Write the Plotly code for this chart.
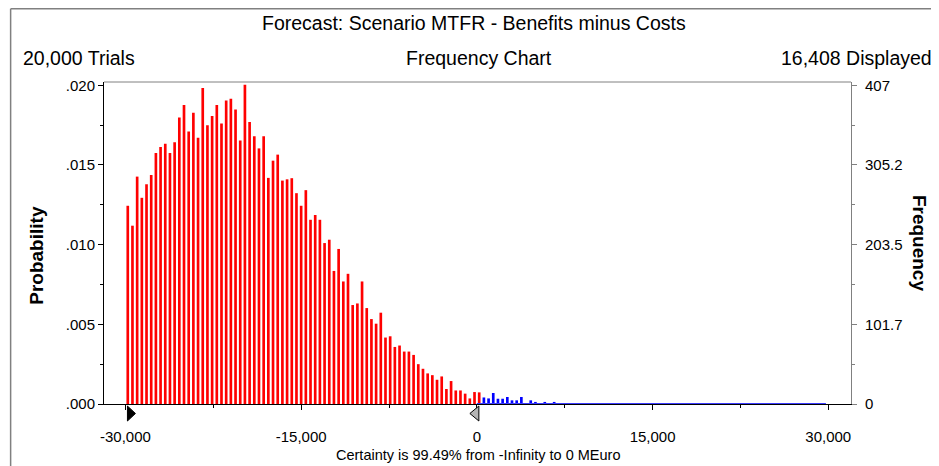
import plotly.graph_objects as go

# Crystal Ball forecast, Scenario MTFR - Benefits minus Costs (MEuro)
# histogram bins: 400 MEuro wide, first bin centred at -29,800
BIN_START = -29800
BIN_WIDTH = 400

# probability per bin, inside the certainty range (-Infinity .. 0)
red_prob = [
    0.01244, 0.01119, 0.01427, 0.01294, 0.01379, 0.01437, 0.01575, 0.01613,
    0.01633, 0.01575, 0.01642, 0.01798, 0.01877, 0.01710, 0.01827, 0.01671,
    0.01983, 0.01750, 0.01808, 0.01877, 0.01760, 0.01904, 0.01915, 0.01848,
    0.01654, 0.02004, 0.01769, 0.01681, 0.01604, 0.01681, 0.01419, 0.01527,
    0.01565, 0.01402, 0.01410, 0.01417, 0.01323, 0.01244, 0.01342, 0.01156,
    0.01186, 0.01156, 0.01010, 0.01031, 0.00835, 0.00973, 0.00769, 0.00817,
    0.00621, 0.00631, 0.00769, 0.00602, 0.00533, 0.00504, 0.00573, 0.00417,
    0.00425, 0.00358, 0.00367, 0.00329, 0.00329, 0.00308, 0.00250, 0.00221,
    0.00192, 0.00181, 0.00152, 0.00173, 0.00094, 0.00144, 0.00085, 0.00085,
    0.00065, 0.00035, 0.00075, 0.00073,
]
# probability per bin, outside the certainty range (above 0)
blue_prob = [
    0.00041, 0.00035, 0.00069, 0.00033, 0.00033, 0.00044, 0.00023, 0.00023,
    0.00044, 0.0, 0.00023, 0.00013, 0.0, 0.00013, 0.0, 0.00013,
]
# near-empty tail bins drawn as a line on the axis
tail_x = [0, 29800]
tail_y = [0, 0]

# certainty grabbers
grab_low = -30000
grab_high = 0

x_ticks = [-30000, -15000, 0, 15000, 30000]
x_labels = ["-30,000", "-15,000", "0", "15,000", "30,000"]
prob_ticks = [0, 0.005, 0.010, 0.015, 0.020]
prob_labels = [".000", ".005", ".010", ".015", ".020"]
freq_ticks = [0, 101.75, 203.5, 305.25, 407]
freq_labels = ["0", "101.7", "203.5", "305.2", "407"]

FONT = "Liberation Sans, Arial, sans-serif"

fig = go.Figure()
fig.add_trace(go.Bar(
    y=red_prob, x0=BIN_START, dx=BIN_WIDTH,
    marker=dict(color="#ff0000", line=dict(width=0)),
    showlegend=False, hoverinfo="skip",
))
fig.add_trace(go.Bar(
    y=blue_prob, x0=BIN_START + len(red_prob) * BIN_WIDTH, dx=BIN_WIDTH,
    marker=dict(color="#0000ff", line=dict(width=0)),
    showlegend=False, hoverinfo="skip",
))
fig.add_trace(go.Scatter(
    x=tail_x, y=tail_y, mode="lines", yaxis="y2",
    line=dict(color="#3c3cff", width=2),
    showlegend=False, hoverinfo="skip", cliponaxis=False,
))

fig.update_layout(
    width=939, height=466, autosize=False,
    margin=dict(l=96, r=96, t=74, b=70),
    paper_bgcolor="white", plot_bgcolor="white",
    barmode="overlay", bargap=0.43,
    font=dict(family=FONT, size=15, color="black"),
    xaxis=dict(
        range=[-31830, 31940], tickvals=x_ticks, ticktext=x_labels,
        showgrid=False, zeroline=False,
        showline=True, linecolor="black", linewidth=1,
        ticks="outside", ticklen=5, tickcolor="black",
        minor=dict(ticks="outside", ticklen=3, dtick=7500, tick0=0, tickcolor="black"),
        ticklabelstandoff=14, tickfont=dict(size=15),
    ),
    yaxis=dict(
        range=[0, 0.020207], tickvals=prob_ticks, ticktext=prob_labels,
        showgrid=False, zeroline=False,
        showline=True, linecolor="black", linewidth=1,
        ticks="outside", ticklen=5, tickcolor="black",
        minor=dict(ticks="outside", ticklen=3, tickvals=[0.0025, 0.0075, 0.0125, 0.0175],
                   tickcolor="black"),
        tickfont=dict(size=15),
    ),
    yaxis2=dict(
        overlaying="y", side="right",
        range=[0, 411.2], tickvals=freq_ticks, ticktext=freq_labels,
        showgrid=False, zeroline=False,
        showline=True, linecolor="#808080", linewidth=1,
        ticks="outside", ticklen=5, tickcolor="#808080",
        minor=dict(ticks="outside", ticklen=3,
                   tickvals=[50.875, 152.625, 254.375, 356.125], tickcolor="#808080"),
        ticklabelstandoff=5, tickfont=dict(size=15),
    ),
)

# plot frame top, outer panel border
fig.add_shape(type="line", xref="paper", yref="paper", x0=0, x1=1, y0=1, y1=1,
              line=dict(color="#808080", width=1))
fig.add_shape(type="line", xref="paper", yref="paper", x0=-0.125, x1=-0.125, y0=1.2275, y1=-0.3,
              line=dict(color="#808080", width=1.5))
fig.add_shape(type="line", xref="paper", yref="paper", x0=-0.125, x1=1.3, y0=1.2275, y1=1.2275,
              line=dict(color="#808080", width=1.5))

# grabbers below the axis, anchored at their values
fig.add_shape(type="path", xref="x", yref="paper", xsizemode="pixel", ysizemode="pixel",
              xanchor=grab_low, yanchor=0, path="M2,-2 L2,-17 L10,-9.5 Z",
              fillcolor="black", line=dict(color="black", width=1))
fig.add_shape(type="path", xref="x", yref="paper", xsizemode="pixel", ysizemode="pixel",
              xanchor=grab_high, yanchor=0, path="M2,-2 L2,-17 L-7,-9.5 Z",
              fillcolor="#b4b4b4", line=dict(color="black", width=1))

texts = [
    dict(text="Forecast: Scenario MTFR - Benefits minus Costs", x=0.495, y=1.182,
         xanchor="center", size=19.5),
    dict(text="Frequency Chart", x=0.502, y=1.076, xanchor="center", size=19.5),
    dict(text="20,000 Trials", x=-0.111, y=1.076, xanchor="left", size=19.5),
    dict(text="16,408 Displayed", x=1.111, y=1.076, xanchor="right", size=19.5),
    dict(text="Certainty is 99.49% from -Infinity to 0 MEuro", x=0.501, y=-0.157,
         xanchor="center", size=14.5),
]
for t in texts:
    fig.add_annotation(text=t["text"], xref="paper", yref="paper", x=t["x"], y=t["y"],
                       xanchor=t["xanchor"], yanchor="middle", showarrow=False,
                       font=dict(family=FONT, size=t["size"], color="black"))

fig.add_annotation(text="<b>Probability</b>", xref="paper", yref="paper", x=-0.0915, y=0.4625,
                   textangle=-90, showarrow=False, xanchor="center", yanchor="middle",
                   font=dict(family=FONT, size=19, color="black"))
fig.add_annotation(text="<b>Frequency</b>", xref="paper", yref="paper", x=1.0925, y=0.50,
                   textangle=90, showarrow=False, xanchor="center", yanchor="middle",
                   font=dict(family=FONT, size=19, color="black"))

fig.write_html("out.html")
